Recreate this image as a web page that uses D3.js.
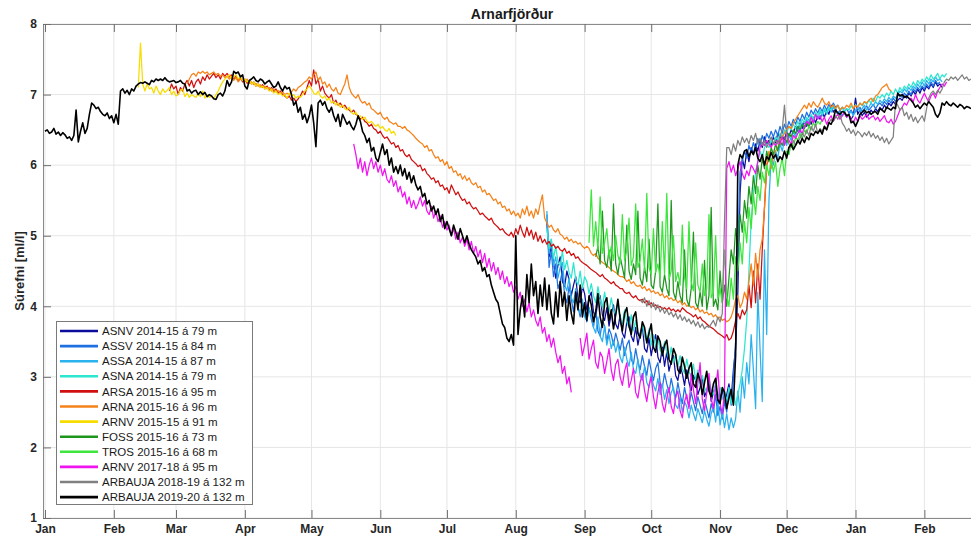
<!DOCTYPE html>
<html>
<head>
<meta charset="utf-8">
<script src="https://cdn.jsdelivr.net/npm/d3@7"></script>
<style>
body { margin: 0; background: #fff; }
svg { font-family: "Liberation Sans", Arial, sans-serif; }
.tick-label { font-weight: bold; fill: #262626; }
</style>
</head>
<body>
<div id="chart"></div>
<script>

const monthDays = [0, 31, 59, 90, 120, 151, 181, 212, 243, 273, 304, 334, 365, 396];
const monthLabels = ['Jan', 'Feb', 'Mar', 'Apr', 'May', 'Jun', 'Jul', 'Aug', 'Sep', 'Oct', 'Nov', 'Dec', 'Jan', 'Feb'];
const yTicks = [1, 2, 3, 4, 5, 6, 7, 8];

const legendLabels = [
'ASNV 2014-15 á 79 m',
'ASSV 2014-15 á 84 m',
'ASSA 2014-15 á 87 m',
'ASNA 2014-15 á 79 m',
'ARSA 2015-16 á 95 m',
'ARNA 2015-16 á 96 m',
'ARNV 2015-15 á 91 m',
'FOSS 2015-16 á 73 m',
'TROS 2015-16 á 68 m',
'ARNV 2017-18 á 95 m',
'ARBAUJA 2018-19 á 132 m',
'ARBAUJA 2019-20 á 132 m'
];

const lineColors = ['#0c0c9c', '#1f70e2', '#2ab2ee', '#2de6d0', '#d01010', '#f5821a', '#f7dc00', '#1e961e', '#3ce63c', '#f014f0', '#808080', '#000000'];

// first day (days after 1 Jan) of each series, one value per day after that
const startDays = [226, 226, 226, 226, 56, 64, 42, 248, 245, 139, 268, 0];

const asnv1415 = [
5.20,4.70,4.85,4.62,4.40,4.58,4.70,4.35,4.28,4.50,
4.38,4.15,4.30,4.42,4.10,4.05,4.28,4.18,3.95,4.12,
4.20,3.92,3.85,4.08,4.15,3.88,3.80,3.98,3.72,3.90,
4.02,3.75,3.68,3.88,3.62,3.55,3.78,3.85,3.58,3.50,
3.70,3.45,3.62,3.72,3.40,3.35,3.55,3.30,3.48,3.60,
3.28,3.20,3.42,3.15,3.35,3.08,3.22,3.30,3.02,2.95,
3.15,3.05,2.88,3.10,2.92,2.80,3.02,2.95,2.75,2.85,
3.00,2.72,2.80,2.95,2.65,2.78,2.88,2.62,2.70,2.82,
2.60,2.75,2.90,2.68,3.10,3.40,4.20,5.60,6.10,5.95,
6.20,6.05,6.25,6.15,6.30,6.20,6.35,6.25,6.40,6.30,
6.35,6.28,6.40,6.32,6.45,6.38,6.42,6.35,6.48,6.40,
6.50,6.45,6.55,6.48,6.60,6.52,6.62,6.55,6.65,6.58,
6.68,6.60,6.70,6.65,6.75,6.68,6.78,6.72,6.85,6.75,
6.80,6.72,6.78,6.70,6.75,6.68,6.72,6.65,6.70,6.95,
6.72,6.78,6.70,6.75,6.68,6.72,6.78,6.74,6.80,6.76,
6.82,6.78,6.85,6.80,6.88,6.84,6.90,6.86,6.92,6.95,
6.92,6.98,6.95,7.02,6.98,7.05,7.00,7.08,7.02,7.10,
7.05,7.12,7.08,7.15,7.10,7.18,7.12,7.15,7.10
];

const assv1415 = [
5.30,4.55,4.78,4.42,4.60,4.25,4.35,4.50,4.15,4.05,
4.28,4.10,3.92,4.18,4.00,3.85,4.05,3.95,3.78,3.98,
3.82,3.70,3.95,3.65,3.58,3.80,3.72,3.50,3.68,3.60,
3.45,3.62,3.50,3.38,3.55,3.30,3.45,3.52,3.25,3.18,
3.40,3.22,3.10,3.30,3.15,3.02,3.25,3.08,2.95,3.12,
3.20,2.92,2.85,3.05,2.90,2.78,2.98,2.82,2.70,2.92,
2.75,2.62,2.85,2.70,2.58,2.78,2.65,2.52,2.72,2.60,
2.48,2.68,2.55,2.42,2.62,2.50,2.75,2.45,2.58,2.40,
2.65,2.50,2.85,2.60,3.00,3.50,4.80,5.90,6.05,6.20,
6.10,6.28,6.18,6.32,6.22,6.38,6.28,6.42,6.32,6.45,
6.38,6.48,6.40,6.50,6.42,6.55,6.45,6.58,6.50,6.62,
6.55,6.65,6.58,6.68,6.62,6.72,6.65,6.75,6.68,6.78,
6.72,6.80,6.74,6.82,6.76,6.85,6.78,6.86,6.80,6.88,
6.82,6.85,6.78,6.82,6.76,6.80,6.74,6.78,6.72,6.76,
6.78,6.82,6.76,6.80,6.84,6.78,6.82,6.86,6.80,6.85,
6.88,6.84,6.90,6.86,6.92,6.88,6.95,6.90,6.98,7.00,
6.96,7.02,6.98,7.05,7.00,7.08,7.04,7.10,7.06,7.12,
7.08,7.15,7.10,7.18,7.12,7.20,7.15,7.18
];

const assa1415 = [
5.35,4.75,4.95,4.58,4.70,4.40,4.55,4.62,4.30,4.22,
4.40,4.12,4.05,4.25,3.98,3.90,4.10,3.85,3.80,3.98,
3.88,3.70,3.62,3.85,3.58,3.50,3.72,3.45,3.60,3.40,
3.52,3.35,3.48,3.28,3.20,3.42,3.25,3.15,3.35,3.10,
3.05,3.25,3.02,2.95,3.15,2.92,2.85,3.05,2.88,2.80,
2.98,2.75,2.90,2.68,2.82,2.62,2.78,2.85,2.60,2.55,
2.72,2.50,2.65,2.58,2.42,2.60,2.48,2.38,2.55,2.45,
2.35,2.52,2.40,2.30,2.48,2.58,2.36,2.65,2.32,2.50,
2.28,2.48,2.25,2.42,2.28,2.40,2.80,2.50,3.00,2.70,
3.20,2.90,3.60,3.10,2.55,4.20,3.40,2.65,4.80,3.60,
5.50,6.10,6.00,6.20,6.10,6.30,6.20,6.35,6.28,6.42,
6.35,6.48,6.40,6.55,6.45,6.60,6.52,6.65,6.58,6.70,
6.62,6.72,6.66,6.76,6.70,6.78,6.72,6.80,6.75,6.82,
6.78,6.72,6.76,6.70,6.74,6.68,6.72,6.76,6.70,6.78,
6.82,6.76,6.80,6.85,6.78,6.82,6.88,6.84,6.90,6.86,
6.92,6.88,6.94,6.90,6.96,6.92,6.98,6.95,7.00,7.05,
7.02,7.08,7.04,7.10,7.06,7.12,7.08,7.15,7.10,7.18,
7.12,7.20,7.15,7.22,7.18,7.25,7.20,7.22,7.18
];

const asna1415 = [
5.10,4.82,4.95,4.68,4.85,4.62,4.58,4.78,4.52,4.65,
4.48,4.40,4.62,4.38,4.30,4.50,4.25,4.42,4.35,4.18,
4.32,4.15,4.05,4.28,4.10,3.98,4.20,4.02,3.92,4.12,
3.95,3.88,4.05,3.82,3.75,3.95,3.78,3.70,3.88,3.65,
3.80,3.62,3.55,3.75,3.58,3.50,3.68,3.45,3.60,3.42,
3.55,3.38,3.30,3.50,3.35,3.25,3.42,3.20,3.32,3.15,
3.30,3.12,3.05,3.25,3.08,3.00,3.18,2.95,3.10,2.88,
3.02,2.85,2.78,2.98,2.82,2.75,2.92,2.70,2.85,2.68,
2.80,2.65,2.85,2.62,2.78,2.60,2.75,2.90,3.10,3.40,
3.80,4.50,5.20,5.60,5.90,6.05,6.20,6.10,6.25,6.30,
6.25,6.35,6.30,6.40,6.35,6.45,6.40,6.50,6.45,6.55,
6.50,6.58,6.52,6.62,6.55,6.65,6.60,6.68,6.62,6.72,
6.65,6.75,6.70,6.78,6.72,6.80,6.75,6.82,6.78,6.85,
6.80,6.84,6.78,6.82,6.76,6.80,6.78,6.84,6.80,6.86,
6.82,6.88,6.84,6.90,6.86,6.92,6.88,6.95,6.90,6.98,
6.95,7.00,6.96,7.02,6.98,7.05,7.00,7.08,7.02,7.10,
7.05,7.12,7.08,7.15,7.10,7.18,7.12,7.20,7.15,7.22,
7.18,7.25,7.20,7.28,7.22,7.25,7.30,7.22,7.28,7.25,7.30
];

const arsa1516 = [
7.05,7.15,7.08,7.12,
7.00,7.10,7.05,7.15,7.20,7.12,7.20,7.10,7.18,7.22,
7.15,7.25,7.20,7.28,7.22,7.26,7.30,7.24,7.28,7.22,
7.30,7.26,7.30,7.25,7.28,7.22,7.26,7.20,7.24,7.18,
7.22,7.16,7.20,7.15,7.18,7.12,7.15,7.10,7.14,7.08,
7.12,7.06,7.10,7.04,7.08,7.02,7.05,7.00,6.98,6.95,
6.98,6.92,6.95,6.90,6.94,6.98,7.05,7.00,7.10,7.20,
7.12,7.35,7.15,7.22,7.05,7.12,7.02,6.98,6.95,7.00,
6.88,6.92,6.85,6.88,6.82,6.85,6.80,6.78,6.75,6.78,
6.72,6.70,6.65,6.68,6.62,6.60,6.55,6.58,6.52,6.50,
6.45,6.48,6.42,6.38,6.40,6.35,6.30,6.32,6.25,6.28,
6.20,6.22,6.15,6.12,6.15,6.08,6.05,6.02,5.98,6.00,
5.92,5.95,5.88,5.85,5.80,5.82,5.75,5.78,5.70,5.72,
5.65,5.68,5.60,5.72,5.65,5.58,5.62,5.55,5.50,5.52,
5.45,5.48,5.42,5.38,5.40,5.35,5.30,5.32,5.28,5.25,
5.22,5.25,5.18,5.15,5.12,5.08,5.10,5.05,5.02,5.00,
5.05,4.98,5.10,5.02,5.15,5.05,4.98,5.12,5.00,5.08,
4.95,5.05,4.92,5.00,4.90,4.95,4.88,4.92,4.85,4.88,
4.82,4.85,4.80,4.78,4.82,4.75,4.78,4.72,4.75,4.68,
4.70,4.65,4.62,4.60,4.58,4.55,4.52,4.50,4.48,4.45,
4.42,4.45,4.40,4.38,4.35,4.32,4.35,4.30,4.28,4.25,
4.25,4.20,4.18,4.20,4.15,4.12,4.15,4.10,4.08,4.10,
4.05,4.08,4.02,4.05,4.00,4.02,3.98,4.00,3.96,3.98,
3.95,3.98,3.94,3.96,3.92,3.95,3.92,3.98,3.95,3.92,
3.90,3.88,3.85,3.88,3.82,3.85,3.80,3.78,3.75,3.72,
3.70,3.68,3.65,3.62,3.60,3.58,3.55,3.60,3.52,3.55,
3.65,3.80,3.90,3.82,3.95,3.88,3.95,4.30,3.98,4.50,
4.05,4.60,4.10,4.80,5.40,6.00,6.10
];

const arna1516 = [
7.15,7.22,7.28,7.30,7.26,7.32,
7.30,7.33,7.30,7.32,7.28,7.30,7.32,7.28,7.30,7.26,
7.28,7.24,7.26,7.22,7.25,7.20,7.24,7.18,7.22,7.20,
7.18,7.22,7.16,7.18,7.14,7.16,7.12,7.14,7.10,7.12,
7.08,7.10,7.05,7.08,7.04,7.06,7.02,7.04,7.00,7.02,
7.00,7.04,7.08,7.05,7.10,7.12,7.15,7.18,7.20,7.25,
7.22,7.28,7.32,7.20,7.25,7.15,7.18,7.10,7.15,7.08,
7.05,7.10,7.02,7.00,7.08,7.15,7.28,7.10,7.02,6.98,
6.95,7.00,6.92,6.88,6.90,6.85,6.88,6.80,6.78,6.75,
6.72,6.75,6.68,6.65,6.68,6.62,6.60,6.58,6.60,6.55,
6.55,6.52,6.55,6.50,6.48,6.45,6.42,6.38,6.35,6.32,
6.30,6.25,6.28,6.20,6.22,6.15,6.10,6.12,6.05,6.08,
6.00,6.05,5.95,5.98,5.90,5.92,5.85,5.88,5.80,5.85,
5.78,5.82,5.75,5.72,5.75,5.68,5.70,5.62,5.65,5.58,
5.60,5.55,5.50,5.52,5.45,5.48,5.40,5.42,5.35,5.38,
5.30,5.35,5.28,5.32,5.25,5.38,5.30,5.42,5.28,5.35,
5.25,5.38,5.30,5.45,5.58,5.25,5.18,5.12,5.15,5.08,
5.05,5.10,5.02,5.00,4.95,4.98,4.92,4.95,4.90,4.92,
4.88,4.90,4.85,4.82,4.85,4.82,4.75,4.72,4.75,4.68,
4.65,4.62,4.60,4.58,4.55,4.52,4.50,4.48,4.45,4.42,
4.42,4.40,4.35,4.38,4.32,4.35,4.30,4.28,4.30,4.25,
4.28,4.22,4.25,4.20,4.22,4.18,4.20,4.15,4.18,4.12,
4.15,4.10,4.12,4.08,4.10,4.05,4.08,4.02,4.05,4.00,
4.02,3.98,4.00,3.95,3.98,3.92,3.95,3.90,3.92,3.88,
3.90,3.85,3.88,3.82,3.85,3.80,3.82,3.78,3.80,3.85,
3.95,4.10,4.15,3.98,4.05,4.20,4.10,4.35,4.60,4.30,
4.75,4.40,4.80,4.95,5.40,6.00,6.20,5.95,6.15,6.20,
6.25,6.35,6.40,6.45,6.50,6.55,6.52,6.60,6.65,6.70,
6.75,6.80,6.85,6.80,6.88,6.82,6.90,6.85,6.82,6.88,
6.95,6.88,6.85,6.90,6.82,6.85,6.80,6.85,6.78,6.82,
6.80,6.85,6.82,6.88,6.80,6.85,6.82,6.88,6.85,6.90,
6.88,6.92,6.95,6.90,6.98,7.00,7.05,7.10,7.12,7.15,7.08,7.05
];

const arnv1515 = [
7.10,7.73,7.15,7.05,7.15,7.08,7.10,7.02,
7.12,7.05,7.00,7.08,7.03,7.06,7.10,7.00,7.05,6.98,
7.00,7.06,7.08,6.97,7.02,6.96,7.00,6.98,6.96,7.02,
6.97,7.05,6.95,7.00,6.96,6.98,6.94,7.00,7.05,7.12,
7.18,7.22,7.25,7.28,7.22,7.25,7.28,7.22,7.25,7.20,
7.22,7.18,7.20,7.15,7.18,7.12,7.15,7.10,7.12,7.08,
7.10,7.05,7.08,7.02,7.05,7.00,7.02,6.98,7.00,6.95,
7.02,6.98,7.00,6.95,6.98,6.96,7.00,7.05,7.08,7.12,
7.08,7.02,7.00,7.05,6.98,6.95,6.98,6.92,6.95,6.88,
6.90,6.85,6.88,6.82,6.85,6.80,6.78,6.82,6.75,6.72,
6.75,6.68,6.70,6.65,6.68,6.62,6.60,6.62,6.58,6.55,
6.58,6.52,6.55,6.50,6.48,6.52,6.45,6.48,6.42
];

const foss1516 = [
4.70,4.85,4.60,5.35,4.65,4.55,4.80,4.50,5.45,4.60,
4.45,4.70,4.55,4.40,5.15,4.50,4.38,4.60,4.45,5.35,
4.40,4.30,4.55,4.35,4.95,4.30,4.25,4.50,5.45,4.28,
4.20,4.45,4.25,4.15,5.50,4.20,4.10,4.35,4.15,4.05,
4.80,4.10,4.00,4.25,5.05,4.05,3.98,4.20,4.00,4.65,
3.95,4.15,5.40,4.00,4.10,3.95,4.50,4.05,4.30,4.00,
4.40,4.80,4.60,5.10,4.85,5.30,5.05,5.50,5.25,5.70,
5.45,5.85,5.60,6.00,5.80,6.10,5.95,6.20,6.05,6.25,
6.15,6.30,6.20,6.35,6.28,6.40,6.32,6.45,6.40,6.50,
6.45,6.55,6.50,6.58,6.52,6.60,6.55,6.62
];

const tros1516 = [
4.90,5.65,4.85,5.20,4.80,5.55,4.75,4.90,5.10,4.70,
4.85,4.65,5.00,4.72,4.60,5.30,4.65,4.80,5.25,4.58,
4.70,5.45,4.55,4.65,4.95,4.50,5.60,4.55,4.45,5.10,
4.48,4.60,4.40,5.20,4.45,5.60,4.38,4.50,5.00,4.35,
4.48,4.30,5.15,4.40,4.25,5.20,4.35,4.22,4.90,4.30,
4.20,4.60,4.15,4.25,5.30,4.12,4.20,5.00,4.10,4.25,
4.05,4.80,4.15,4.00,4.40,4.10,4.70,4.50,4.90,4.60,
5.20,4.90,5.40,5.10,5.60,5.30,5.70,5.50,5.90,5.75,
6.00,5.85,6.10,5.90,6.05,5.70,5.95,6.10,5.85,6.20,
6.15,6.30,6.25,6.40,6.35,6.45,6.38,6.50,6.45,6.55,
6.50,6.60,6.55,6.62,6.58,6.65
];

const arnv1718 = [
6.30,
6.15,5.95,6.10,5.90,6.05,5.85,6.00,6.10,5.95,6.05,
5.90,6.00,5.85,5.95,5.80,5.75,5.85,5.70,5.78,5.62,
5.70,5.55,5.62,5.45,5.55,5.40,5.50,5.38,5.45,5.55,
5.42,5.50,5.35,5.30,5.42,5.25,5.35,5.20,5.28,5.12,
5.20,5.08,5.15,5.00,5.10,4.95,5.05,4.90,4.98,4.85,
4.95,4.80,4.92,4.75,4.85,4.70,4.80,4.62,4.75,4.55,
4.68,4.50,4.62,4.45,4.55,4.38,4.50,4.32,4.42,4.28,
4.35,4.20,4.28,4.10,4.20,4.00,4.10,3.92,4.05,3.85,
3.95,3.80,3.72,3.85,3.62,3.70,3.50,3.60,3.42,3.55,
3.35,3.20,3.30,3.05,3.15,2.90,3.00,2.78,null,null,
null,3.55,3.30,3.45,3.62,3.25,3.40,3.52,3.20,3.12,
3.35,3.28,3.05,3.22,3.40,3.10,2.95,3.18,3.25,3.00,
2.88,3.08,3.20,2.85,2.95,3.12,2.78,2.70,2.92,3.05,
2.80,2.65,2.88,3.00,2.72,2.55,2.78,2.92,2.62,2.50,
2.70,2.85,2.58,2.48,2.72,2.80,2.52,2.42,2.65,2.75,
2.55,3.05,2.82,2.62,2.90,3.20,2.68,2.52,2.78,3.05,
2.70,2.55,2.85,3.10,2.62,2.48,2.80,5.95,6.05,5.90,
6.00,5.85,5.95,6.05,5.88,5.80,5.92,5.85,6.00,5.95,
5.88,6.05,6.25,6.32,6.28,6.35,6.30,6.25,6.32,6.28,
6.35,6.30,6.40,6.28,6.45,6.35,6.30,6.42,6.38,6.45,
6.50,6.45,6.55,6.62,6.58,6.68,6.60,6.72,6.65,6.70,
6.62,6.68,6.58,6.65,6.70,6.62,6.68,6.72,6.65,6.70,
6.75,6.68,6.72,6.65,6.60,6.68,6.62,6.70,6.65,6.68,
6.72,6.65,6.68,6.70,6.64,6.68,6.62,6.66,6.70,6.62,
6.60,6.65,6.58,6.62,6.70,6.78,6.82,6.88,6.85,6.92,
6.95,6.90,7.00,6.92,6.88,6.95,7.02,6.95,6.90,6.98,
7.02,6.95,7.05,7.10,7.15,7.12,7.18
];

const arbauja1819 = [
4.10,4.05,4.12,4.00,4.08,3.98,4.05,3.95,4.02,3.92,3.98,3.90,
3.95,3.88,3.92,3.85,3.90,3.82,3.88,3.80,3.85,3.78,
3.82,3.75,3.80,3.72,3.78,3.70,3.75,3.68,3.72,3.70,
3.75,3.80,3.72,3.85,3.78,3.90,5.20,6.25,6.25,6.15,
6.30,6.20,6.35,6.28,6.40,6.32,6.38,6.30,6.42,6.35,
6.45,6.30,6.38,6.28,6.35,6.25,6.32,6.40,6.30,6.35,
6.30,6.40,6.50,6.85,6.45,6.30,6.25,6.35,6.28,6.32,
6.38,6.45,6.40,6.50,6.42,6.55,6.48,6.58,6.45,6.52,
6.48,6.55,6.50,6.60,6.65,6.62,6.70,6.65,6.72,6.60,
6.55,6.48,6.52,6.45,6.50,6.42,6.48,6.45,6.40,6.46,
6.42,6.48,6.40,6.45,6.38,6.42,6.35,6.40,6.32,6.38,
6.30,6.35,6.40,6.90,6.85,6.78,6.82,6.70,6.75,6.65,
6.72,6.62,6.68,6.60,6.65,6.70,6.62,6.80,6.95,7.02,
7.05,7.00,7.06,7.02,7.08,7.18,7.22,7.20,7.25,7.22,
7.25,7.20,7.24,7.28,7.22,7.25,7.20,7.22
];

const arbauja1920 = [
6.48,6.50,6.45,6.47,6.52,6.44,6.47,6.42,6.46,6.43,
6.38,6.40,6.35,6.42,6.78,6.33,6.48,6.60,6.45,6.52,
6.72,6.88,6.85,6.80,6.82,6.76,6.72,6.70,6.74,6.66,
6.70,6.60,6.72,6.58,7.05,7.08,7.02,7.06,7.00,7.08,
7.05,7.12,7.15,7.17,7.16,7.18,7.16,7.14,7.20,7.18,
7.22,7.20,7.22,7.20,7.24,7.20,7.18,7.19,7.20,7.17,
7.18,7.20,7.16,7.15,7.05,7.07,7.02,7.05,7.06,7.00,
7.04,7.00,7.03,6.97,7.00,6.98,6.94,6.93,7.00,7.02,
6.98,7.05,7.20,7.12,7.18,7.33,7.30,7.32,7.25,7.28,
7.12,7.08,7.20,7.22,7.25,7.20,7.18,7.22,7.20,7.15,
7.18,7.20,7.15,7.10,7.12,7.18,7.10,7.05,7.12,7.08,
7.10,7.00,6.85,6.90,6.75,6.82,6.65,6.72,6.60,6.70,
6.85,6.60,6.26,6.88,6.92,6.85,6.90,6.80,6.75,6.82,
6.70,6.62,6.72,6.55,6.72,6.65,6.58,6.62,6.55,6.50,
6.58,6.70,6.62,6.48,6.42,6.32,6.38,6.20,6.25,6.10,
6.05,6.18,6.30,6.15,6.22,6.00,6.10,5.90,5.98,5.88,
6.00,5.85,5.95,5.80,5.90,5.75,5.85,5.72,5.65,5.70,
5.55,5.60,5.45,5.50,5.35,5.42,5.30,5.38,5.20,5.30,
5.10,5.20,5.10,5.00,5.15,5.05,4.95,5.10,5.00,4.90,
5.00,4.88,4.80,4.75,4.70,4.60,4.65,4.50,4.55,4.42,
4.45,4.30,4.20,4.10,4.05,3.90,3.75,3.70,3.55,3.50,
3.60,3.45,5.00,3.60,3.95,4.15,3.85,4.45,4.05,4.60,
4.15,4.35,3.90,4.30,4.00,4.40,3.95,4.30,3.90,3.75,
4.20,3.85,4.35,4.00,4.20,3.80,4.15,3.90,3.75,4.20,
3.95,4.30,3.85,4.05,3.80,4.15,4.02,3.78,3.92,4.18,
3.85,3.70,4.05,4.12,3.80,3.95,3.68,3.88,4.10,3.82,
3.65,3.90,3.98,3.72,3.60,3.85,3.92,3.62,3.55,3.78,
3.70,3.48,3.62,3.75,3.42,3.35,3.58,3.50,3.30,3.45,
3.52,3.25,3.18,3.40,3.32,3.10,3.05,3.28,3.15,2.98,
3.12,3.20,2.90,2.85,3.05,2.95,2.75,2.92,3.08,2.80,
2.72,2.90,2.98,2.68,2.62,2.85,2.78,2.55,2.70,2.82,
2.60,3.30,6.00,6.15,6.10,6.20,6.22,6.12,6.20,6.15,
6.25,6.10,6.05,6.15,6.00,6.12,6.08,6.18,6.10,6.15,
6.05,6.12,6.08,6.20,6.10,6.25,6.30,6.22,6.28,6.35,
6.30,6.38,6.32,6.40,6.36,6.45,6.42,6.48,6.45,6.50,
6.44,6.55,6.50,6.60,6.58,6.65,6.78,6.74,6.72,6.76,
6.75,6.70,6.72,6.60,6.62,6.55,6.62,6.72,6.75,6.78,
6.74,6.76,6.72,6.75,6.76,6.72,6.80,6.78,6.75,6.82,
6.80,6.78,6.82,6.80,7.02,6.98,7.00,6.96,6.98,6.95,
6.92,6.88,6.82,6.85,6.80,6.84,6.88,6.85,6.90,6.86,
6.82,6.72,6.68,6.74,6.88,6.85,6.90,6.86,6.84,6.88,
6.85,6.82,6.86,6.84,6.80,6.83,6.82,6.80
];

const seriesValues = [asnv1415, assv1415, assa1415, asna1415, arsa1516, arna1516, arnv1515, foss1516, tros1516, arnv1718, arbauja1819, arbauja1920];

const width = 971;
const height = 543;
const margin = {top: 24, right: 0, bottom: 25, left: 43};

const svg = d3.select('#chart')
.append('svg')
.attr('width', width)
.attr('height', height)

let xScale = d3.scaleLinear()
.domain([-0.9, 417])
.range([margin.left, width - margin.right])

let yScale = d3.scaleLinear()
.domain([1, 8])
.range([height - margin.bottom, margin.top])

svg.append('defs')
.append('clipPath')
.attr('id', 'plot-clip')
.append('rect')
.attr('x', margin.left)
.attr('y', margin.top)
.attr('width', width - margin.right - margin.left)
.attr('height', height - margin.bottom - margin.top)

const grid = svg.append('g').attr('class', 'grid')

grid.selectAll('.vgrid')
.data(monthDays)
.enter()
.append('line')
.attr('x1', d => xScale(d))
.attr('x2', d => xScale(d))
.attr('y1', margin.top)
.attr('y2', height - margin.bottom)
.attr('stroke', '#e6e6e6')
.attr('stroke-width', 1)

grid.selectAll('.hgrid')
.data(yTicks)
.enter()
.append('line')
.attr('x1', margin.left)
.attr('x2', width - margin.right)
.attr('y1', d => yScale(d))
.attr('y2', d => yScale(d))
.attr('stroke', '#e6e6e6')
.attr('stroke-width', 1)

const line = d3.line()
.defined(d => d[1] != null)
.x(d => xScale(d[0]))
.y(d => yScale(d[1]))

const plot = svg.append('g')
.attr('clip-path', 'url(#plot-clip)')

seriesValues.map((values, i) => {

	let points = values.map((v, j) => [startDays[i] + j, v]);

	plot.append('path')
	.datum(points)
	.attr('d', line)
	.attr('fill', 'none')
	.attr('stroke', lineColors[i])
	.attr('stroke-width', i === 11 ? 1.6 : 1.25)
	.attr('stroke-linejoin', 'round')
})

const styleAxis = g => {
	g.select('.domain').attr('stroke', '#8a8a8a')
	g.selectAll('.tick line').attr('stroke', '#6e6e6e')
	g.selectAll('.tick text')
	.attr('class', 'tick-label')
	.style('font-size', '12px')
	.style('font-family', '"Liberation Sans", Arial, sans-serif')
}

svg.append('g')
.attr('transform', `translate(0,${height - margin.bottom})`)
.call(
	d3.axisBottom(xScale)
	.tickValues(monthDays)
	.tickFormat((d, i) => monthLabels[i])
	.tickSizeInner(-8)
	.tickSizeOuter(0)
	.tickPadding(6)
)
.call(styleAxis)

svg.append('g')
.attr('transform', `translate(0,${margin.top})`)
.call(
	d3.axisTop(xScale)
	.tickValues(monthDays)
	.tickFormat('')
	.tickSizeInner(-8)
	.tickSizeOuter(0)
)
.call(styleAxis)

svg.append('g')
.attr('transform', `translate(${margin.left},0)`)
.call(
	d3.axisLeft(yScale)
	.tickValues(yTicks)
	.tickFormat(d3.format('d'))
	.tickSizeInner(-8)
	.tickSizeOuter(0)
	.tickPadding(6)
)
.call(styleAxis)

svg.append('text')
.attr('x', 512)
.attr('y', 19)
.attr('text-anchor', 'middle')
.style('font-size', '14px')
.style('font-weight', 'bold')
.style('fill', '#1a1a1a')
.text('Arnarfjörður')

svg.append('text')
.attr('transform', `translate(24,${(margin.top + height - margin.bottom) / 2}) rotate(-90)`)
.attr('text-anchor', 'middle')
.style('font-size', '13px')
.style('font-weight', 'bold')
.style('fill', '#262626')
.text('Súrefni [ml/l]')

const legend = svg.append('g').attr('class', 'legend')

legend.append('rect')
.attr('x', 56.5)
.attr('y', 321.5)
.attr('width', 196)
.attr('height', 183)
.attr('fill', '#fff')
.attr('stroke', '#7a7a7a')
.attr('stroke-width', 1)

const rows = legend.selectAll('.legend-row')
.data(legendLabels)
.enter()
.append('g')
.attr('class', 'legend-row')
.attr('transform', (d, i) => `translate(0,${331 + i * 15.1})`)

rows.append('line')
.attr('x1', 60)
.attr('x2', 98)
.attr('y1', 0)
.attr('y2', 0)
.attr('stroke', (d, i) => lineColors[i])
.attr('stroke-width', 2.6)

rows.append('text')
.attr('x', 102)
.attr('y', 0)
.attr('dy', '0.36em')
.style('font-size', '11.5px')
.style('fill', '#1a1a1a')
.text(d => d)

</script>
</body>
</html>
